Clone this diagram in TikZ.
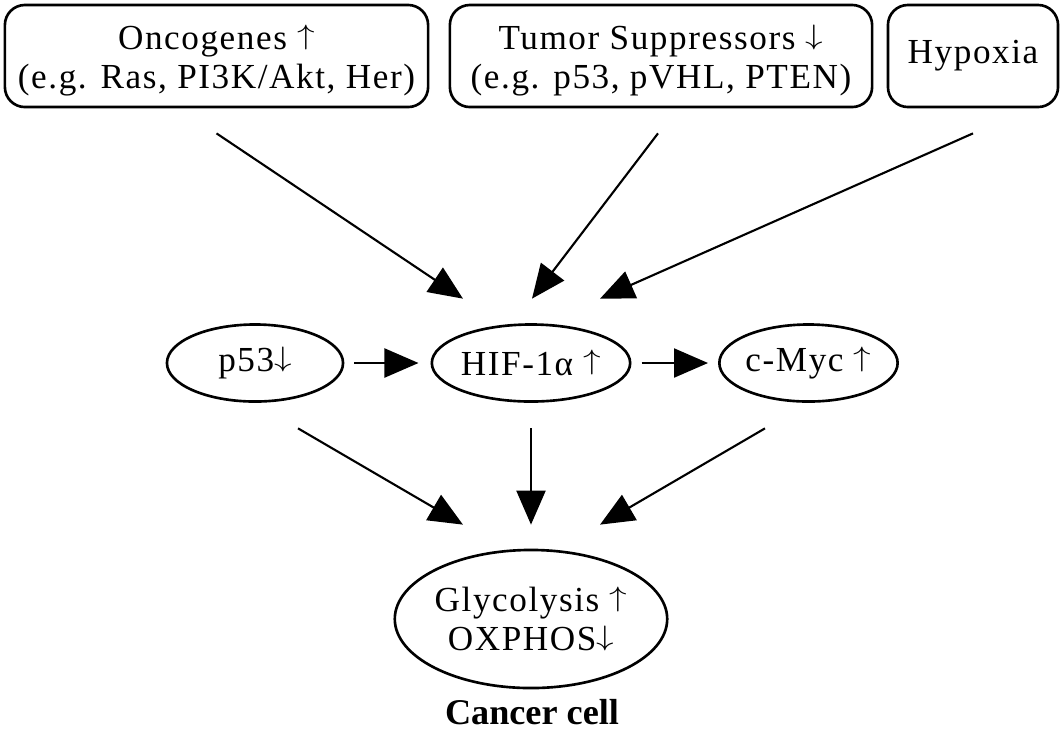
\documentclass[tikz,border=0pt]{standalone}
\usepackage{graphicx}
\usepackage{fontspec}
\setmainfont[LetterSpace=4.5]{Liberation Serif}
\usetikzlibrary{shapes.geometric,arrows.meta}

\newcommand{\upar}{\raisebox{0.15em}{\scalebox{1}[0.8]{$\uparrow$}}}
\newcommand{\dnar}{\raisebox{0.15em}{\scalebox{1}[0.8]{$\downarrow$}}}

\tikzset{
  cause/.style={draw, rounded corners=0.2cm, line width=0.75pt,
    minimum height=1.02cm, align=center, inner sep=0pt},
  twoline/.style={text height=0.71cm, text depth=0.06cm},
  factor/.style={draw, ellipse, line width=0.75pt, align=center,
    minimum width=1.76cm, minimum height=0.77cm, inner sep=0pt},
  arr/.style={-{Triangle[length=0.34cm,width=0.29cm]}, line width=0.6pt},
}

\begin{document}
\begin{tikzpicture}[x=0.01cm, y=-0.01cm, font=\fontsize{10}{11}\selectfont]
      \useasboundingbox (0,0) rectangle (1063,729);
      \draw
        (216.5,56) node[cause, twoline, minimum width=4.23cm] (onc) {Oncogenes \upar\\(e.g. Ras, PI3K/Akt, Her)}
        (661,56) node[cause, twoline, minimum width=4.22cm] (tsg) {Tumor Suppressors \dnar\\(e.g. p53, pVHL, PTEN)}
        (973,56) node[cause, minimum width=1.7cm] (hyp) {Hypoxia}
        (255,363) node[factor] (p53) {p53\dnar}
        (531,363) node[factor] (hif) {HIF-1α \upar}
        (808.5,363) node[factor] (myc) {c-Myc \upar}
        (531,619) node[factor, minimum width=2.7cm, minimum height=1.38cm] (gly) {Glycolysis \upar\\OXPHOS\dnar}
        (532,712) node[font=\fontsize{10.3}{12}\selectfont\bfseries\addfontfeature{LetterSpace=0}] (cell) {Cancer cell};
      \begin{scope}[arr]
        \draw ([yshift=-0.25cm]onc.south) to ([xshift=-0.68cm,yshift=0.245cm]hif.north);
        \draw ([xshift=-0.03cm,yshift=-0.25cm]tsg.south) to ([xshift=0.01cm,yshift=0.245cm]hif.north);
        \draw ([yshift=-0.25cm]hyp.south) to ([xshift=0.69cm,yshift=0.245cm]hif.north);
        \draw[shorten <=0.1cm, shorten >=0.12cm] (p53.east) to (hif.west);
        \draw[shorten <=0.1cm, shorten >=0.1cm] (hif.east) to (myc.west);
        \draw ([xshift=0.43cm,yshift=-0.255cm]p53.south) to ([xshift=-0.68cm,yshift=0.24cm]gly.north);
        \draw ([yshift=-0.255cm]hif.south) to ([yshift=0.24cm]gly.north);
        \draw ([xshift=-0.435cm,yshift=-0.255cm]myc.south) to ([xshift=0.69cm,yshift=0.24cm]gly.north);
      \end{scope}
    \end{tikzpicture}
\end{document}
